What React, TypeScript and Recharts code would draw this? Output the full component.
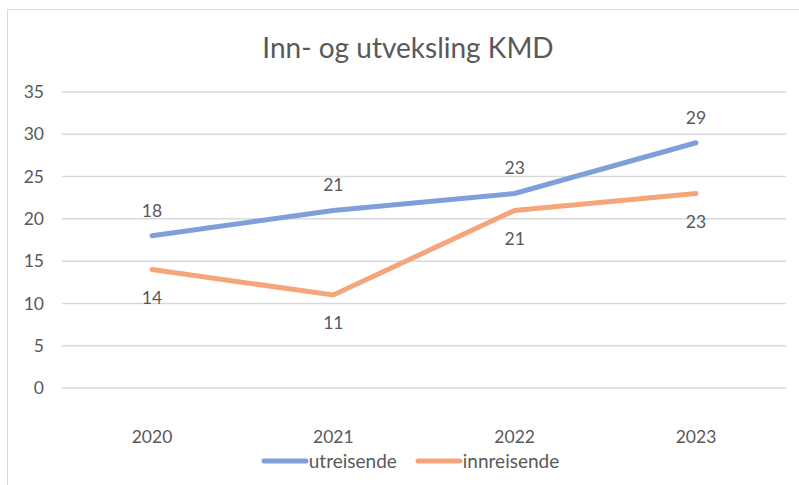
import { LineChart, Line, XAxis, YAxis, CartesianGrid, Legend, LabelList } from "recharts";

const years = ["2020", "2021", "2022", "2023"];
const utreisende = [18, 21, 23, 29];
const innreisende = [14, 11, 21, 23];
const yTicks = [0, 5, 10, 15, 20, 25, 30, 35];

const data = years.map((year, i) => ({
  year,
  utreisende: utreisende[i],
  innreisende: innreisende[i],
}));

const font = "Lato, 'Open Sans', sans-serif";
const textColor = "#595959";
const blue = "#7f9fdb";
const orange = "#f4a67a";

const LegendContent = () => (
  <div
    style={{
      display: "flex",
      justifyContent: "center",
      alignItems: "center",
      fontFamily: font,
      fontSize: 19,
      lineHeight: "19px",
      color: textColor,
      paddingLeft: 26,
      paddingTop: 6,
    }}
  >
    <svg width={48} height={10}>
      <line x1={3} y1={5} x2={45} y2={5} stroke={blue} strokeWidth={5} strokeLinecap="round" />
    </svg>
    <span style={{ marginRight: 18 }}>utreisende</span>
    <svg width={48} height={10}>
      <line x1={3} y1={5} x2={45} y2={5} stroke={orange} strokeWidth={5} strokeLinecap="round" />
    </svg>
    <span>innreisende</span>
  </div>
);

export default function App() {
  return (
    <div style={{ position: "absolute", left: 0, top: 0, width: 799, height: 485, background: "#fff", overflow: "hidden" }}>
      <div
        style={{
          position: "absolute",
          left: 7,
          top: 9,
          width: 792,
          height: 476,
          borderTop: "1px solid #d9d9d9",
          borderLeft: "1px solid #d9d9d9",
        }}
      >
        <div
          style={{
            position: "absolute",
            top: 20,
            left: 0,
            width: 800,
            textAlign: "center",
            fontFamily: font,
            fontSize: 28,
            color: textColor,
          }}
        >
          Inn- og utveksling KMD
        </div>
        <LineChart width={791} height={475} data={data} margin={{ top: 82, right: 13, left: 0, bottom: 0 }}>
          <CartesianGrid vertical={false} stroke="#d9d9d9" strokeWidth={1.5} />
          <XAxis
            dataKey="year"
            axisLine={false}
            tickLine={false}
            tickSize={0}
            tickMargin={43}
            height={57}
            padding={{ left: 90, right: 90 }}
            tick={{ fill: textColor, fontSize: 17.5, fontFamily: font }}
          />
          <YAxis
            domain={[0, 35]}
            ticks={yTicks}
            axisLine={false}
            tickLine={false}
            tickSize={0}
            tickMargin={18}
            width={54}
            tick={{ fill: textColor, fontSize: 17.5, fontFamily: font }}
          />
          <Legend verticalAlign="bottom" height={40} content={<LegendContent />} />
          <Line
            type="linear"
            dataKey="utreisende"
            stroke={blue}
            strokeWidth={5}
            strokeLinecap="round"
            dot={false}
            isAnimationActive={false}
          >
            <LabelList dataKey="utreisende" position="top" offset={19} fill={textColor} fontSize={17.5} fontFamily={font} />
          </Line>
          <Line
            type="linear"
            dataKey="innreisende"
            stroke={orange}
            strokeWidth={5}
            strokeLinecap="round"
            dot={false}
            isAnimationActive={false}
          >
            <LabelList dataKey="innreisende" position="bottom" offset={22} fill={textColor} fontSize={17.5} fontFamily={font} />
          </Line>
        </LineChart>
      </div>
    </div>
  );
}
